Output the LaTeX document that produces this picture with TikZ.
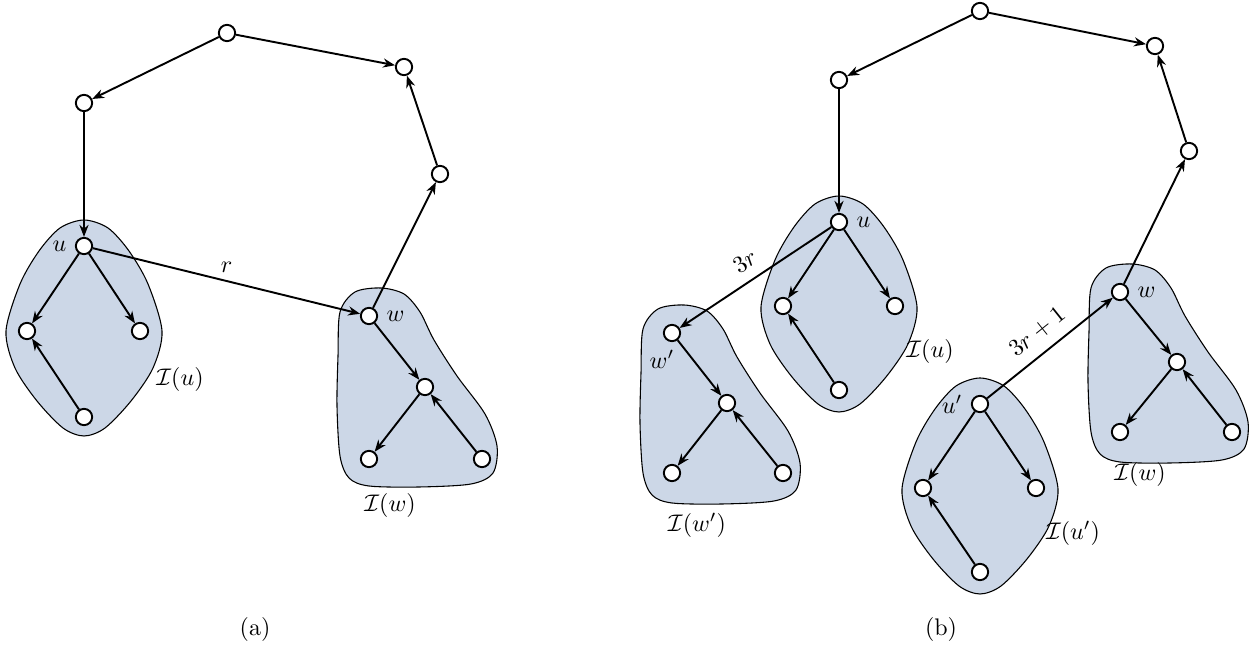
\documentclass[tikz,border=0pt]{standalone}
\usetikzlibrary{arrows.meta}

\definecolor{blobblue}{RGB}{204,215,231}

\tikzset{
    vertex/.style={circle, draw, thick, fill=white, inner sep=0pt, minimum size=6.8pt},
    edge/.style={->, thick},
    blob/.style={draw=black, fill=blobblue, line width=0.45pt},
    ublob/.pic={
        \draw[blob] plot[smooth cycle] coordinates {(0,-26) (24,-18) (45,5) (64,38) (78,85) (69,122) (47,155)
            (21,182) (0,190) (-21,182) (-47,155) (-69,122) (-78,85) (-64,38) (-45,5) (-24,-18)};
    },
    wblob/.pic={
        \draw[blob] plot[smooth cycle] coordinates {(-29,-4) (-14,-24) (12,-28) (35,-22) (51,-4) (65,24) (88,60)
            (116,98) (128,130) (124,157) (102,168) (50,171) (0,170) (-20,162) (-29,140) (-32,90) (-31,40)};
    },
}

\begin{document}
\begin{tikzpicture}[x=0.4167pt, y=-0.4167pt, >={Stealth[length=5pt, width=3.8pt]}]
    \useasboundingbox (0,0) rectangle (1253,648);

    % (a)
    \pic at (84,246) {ublob};
    \pic at (369,316) {wblob};

    \node[vertex] (a1) at (227,33) {};
    \node[vertex] (a2) at (84,103) {};
    \node[vertex] (a3) at (404,67) {};
    \node[vertex] (a4) at (440,174) {};

    \node[vertex, label=left:$u$] (au) at (84,246) {};
    \node[vertex] (aul) at (27,331) {};
    \node[vertex] (aur) at (140,331) {};
    \node[vertex] (aub) at (84,417) {};

    \node[vertex, label=right:$w$] (aw) at (369,316) {};
    \node[vertex] (awm) at (425,387) {};
    \node[vertex] (awl) at (369,459) {};
    \node[vertex] (awr) at (482,459) {};

    \draw[edge] (a1) -- (a2);
    \draw[edge] (a1) -- (a3);
    \draw[edge] (a2) -- (au);
    \draw[edge] (au) -- node[above] (ar) {$r$} (aw);
    \draw[edge] (aw) -- (a4);
    \draw[edge] (a4) -- (a3);

    \draw[edge] (au) -- (aul);
    \draw[edge] (au) -- (aur);
    \draw[edge] (aub) -- (aul);
    \draw[edge] (aw) -- (awm);
    \draw[edge] (awm) -- (awl);
    \draw[edge] (awr) -- (awm);

    \node (aiu) at (180,380) {$\mathcal{I}(u)$};
    \node (aiw) at (390,506) {$\mathcal{I}(w)$};
    \node (acap) at (255,630) {(a)};

    % (b)
    \pic at (839,222) {ublob};
    \pic at (980,404) {ublob};
    \pic at (672,333) {wblob};
    \pic at (1120,292) {wblob};

    \node[vertex] (b1) at (980,11) {};
    \node[vertex] (b2) at (839,80) {};
    \node[vertex] (b3) at (1155,46) {};
    \node[vertex] (b4) at (1189,151) {};

    \node[vertex, label=right:$u$] (bu) at (839,222) {};
    \node[vertex] (bul) at (783,306) {};
    \node[vertex] (bur) at (895,306) {};
    \node[vertex] (bub) at (839,390) {};

    \node[vertex, label=left:$u'$] (bv) at (980,404) {};
    \node[vertex] (bvl) at (923,488) {};
    \node[vertex] (bvr) at (1036,488) {};
    \node[vertex] (bvb) at (980,572) {};

    \node[vertex, label={[shift={(-10,0)}]below:$w'$}] (bx) at (672,333) {};
    \node[vertex] (bxm) at (727,403) {};
    \node[vertex] (bxl) at (672,473) {};
    \node[vertex] (bxr) at (783,473) {};

    \node[vertex, label=right:$w$] (bw) at (1120,292) {};
    \node[vertex] (bwm) at (1177,362) {};
    \node[vertex] (bwl) at (1120,432) {};
    \node[vertex] (bwr) at (1232,432) {};

    \draw[edge] (b1) -- (b2);
    \draw[edge] (b1) -- (b3);
    \draw[edge] (b2) -- (bu);
    \draw[edge] (bu) -- node[sloped, above=1pt] (b3r) {$3r$} (bx);
    \draw[edge] (bv) -- node[sloped, above=1pt] (b3r1) {$3r+1$} (bw);
    \draw[edge] (bw) -- (b4);
    \draw[edge] (b4) -- (b3);

    \draw[edge] (bu) -- (bul);
    \draw[edge] (bu) -- (bur);
    \draw[edge] (bub) -- (bul);
    \draw[edge] (bv) -- (bvl);
    \draw[edge] (bv) -- (bvr);
    \draw[edge] (bvb) -- (bvl);
    \draw[edge] (bx) -- (bxm);
    \draw[edge] (bxm) -- (bxl);
    \draw[edge] (bxr) -- (bxm);
    \draw[edge] (bw) -- (bwm);
    \draw[edge] (bwm) -- (bwl);
    \draw[edge] (bwr) -- (bwm);

    \node (biu) at (930,352) {$\mathcal{I}(u)$};
    \node (biv) at (1073,533) {$\mathcal{I}(u')$};
    \node (bix) at (697,525) {$\mathcal{I}(w')$};
    \node (biw) at (1140,475) {$\mathcal{I}(w)$};
    \node (bcap) at (941,630) {(b)};
\end{tikzpicture}
\end{document}
